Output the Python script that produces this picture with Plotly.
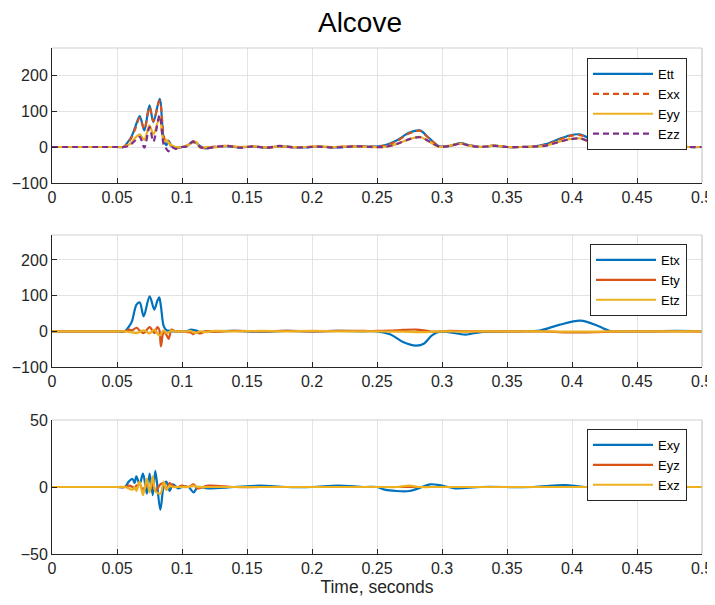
import plotly.graph_objects as go

# ---------------- data ----------------
title_text = "Alcove"
x_label = "Time, seconds"
x_tickvals = [0, 0.05, 0.1, 0.15, 0.2, 0.25, 0.3, 0.35, 0.4, 0.45, 0.5]
x_ticktext = ["0", "0.05", "0.1", "0.15", "0.2", "0.25", "0.3", "0.35", "0.4", "0.45", "0.5"]
y1_ticks = [-100, 0, 100, 200]
y2_ticks = [-100, 0, 100, 200]
y3_ticks = [-50, 0, 50]

# panel 1: Ett, Exx, Eyy, Ezz
t1 = [0, 0.05, 0.055, 0.058, 0.061, 0.064, 0.0675, 0.071, 0.075, 0.078, 0.0828, 0.086,
      0.088, 0.0895, 0.092, 0.095, 0.1, 0.104, 0.108, 0.111, 0.114, 0.118, 0.125, 0.135,
      0.145, 0.155, 0.165, 0.175, 0.185, 0.195, 0.205, 0.215, 0.225, 0.235, 0.245, 0.255,
      0.265, 0.275, 0.283, 0.29, 0.298, 0.306, 0.314, 0.322, 0.33, 0.34, 0.35, 0.36, 0.37,
      0.38, 0.39, 0.398, 0.406, 0.414, 0.422, 0.43, 0.44, 0.45, 0.46, 0.47, 0.48, 0.49, 0.5]
Ett = [0, 0, 0, 12, 28, 55, 86, 46, 116, 69, 134, 20,
       5, 18, 2, -3, 0, 3, 15, 12, 2, -4, 0, 2,
       -1, 1, -2, 2, 0, -1, 1, -1, 0, 2, 1, 4,
       18, 40, 46, 25, 2, 3, 11, 4, 0, 4, 0, 0, 1,
       8, 22, 32, 35, 22, 4, 0, 1, 0, 1, 0, 1, 0, 0]
Exx = [0, 0, 0, 10, 25, 50, 80, 50, 110, 72, 128, 30,
       10, 15, 0, -2, 0, 4, 16, 12, 1, -3, 1, 3,
       -1, 2, -2, 1, -1, 0, 1, -1, 1, 2, 1, 3,
       16, 38, 45, 24, 2, 3, 10, 4, 0, 4, 0, 0, 1,
       6, 20, 30, 33, 22, 4, 0, 1, 0, 1, 0, 1, 0, 0]
Eyy = [0, 0, 0, 4, 12, 25, 35, 20, 60, 35, 82, 15,
       20, 12, 5, 0, 0, 4, 12, 14, -2, 0, -1, 3,
       0, 2, -1, 2, 0, 0, 2, 0, 1, 1, 0, 0,
       8, 22, 28, 15, 0, 4, 9, 3, 0, 4, 0, 0, 1,
       4, 15, 22, 24, 14, 2, 0, 1, 0, 1, 0, 1, 0, 0]
Ezz = [0, 0, 0, 2, 8, 18, 28, -2, 55, 15, 88, 5,
       -5, -12, 0, -5, 0, 2, 14, 10, 0, -4, 0, 3,
       -2, 2, -2, 3, -1, -1, 1, -1, 0, 2, 0, 0,
       8, 22, 27, 16, 1, 3, 9, 3, 0, 3, 0, 0, 1,
       4, 14, 21, 24, 14, 2, 0, 1, 0, 1, 0, 1, 0, 0]

# panel 2: Etx, Ety, Etz
t2 = [0, 0.05, 0.056, 0.0595, 0.0615, 0.065, 0.0675, 0.0705, 0.0751, 0.0787, 0.081,
      0.0825, 0.0838, 0.0859, 0.088, 0.0897, 0.092, 0.095, 0.1, 0.104, 0.107, 0.1085,
      0.111, 0.114, 0.118, 0.125, 0.14, 0.16, 0.18, 0.2, 0.22, 0.24, 0.25, 0.26, 0.27,
      0.28, 0.286, 0.292, 0.298, 0.306, 0.318, 0.33, 0.345, 0.36, 0.375, 0.39, 0.4065,
      0.42, 0.4295, 0.44, 0.46, 0.48, 0.5]
Etx = [0, 0, 0, 15, 28, 75, 81, 42, 98, 61, 85,
       95, 70, 15, 3, 2, 0, 0, 0, 1, 5, 4,
       2, -2, -1, 0, 1, -1, 1, 0, 1, 0, 0, -8, -30,
       -40, -35, -12, -1, -3, -9, -2, -1, 0, 2, 18, 30,
       15, 1, 0, 0, 1, 0]
Ety = [0, 0, 0, 5, 3, 10, 2, -5, 12, -5, 12,
       5, -42, 0, -10, -21, 5, 0, 0, -2, -3, -8,
       -2, -6, 0, -1, 1, 0, 1, 0, 1, 1, 1, 2, 4,
       5, 3, -1, 0, 1, 0, 0, 0, 0, 0, -2, -3,
       -2, -1, 0, 0, 0, 0]
Etz = [0, 0, 0, -2, -3, -5, -2, 3, -6, 5, -6,
       -12, -8, 3, -5, -3, 2, 0, 0, 0, 1, -3,
       -4, 0, -2, 1, 0, 1, 0, 1, 0, 0, 0, -1, -1,
       -2, -2, -1, 0, 0, -1, 0, 0, 0, 0, -1, -1,
       -1, 0, 0, 0, 0, 0]

# panel 3: Exy, Eyz, Exz
t3 = [0, 0.05, 0.056, 0.059, 0.062, 0.0635, 0.0649, 0.0674, 0.07, 0.073, 0.0751, 0.0775,
      0.0795, 0.0833, 0.086, 0.088, 0.0905, 0.093, 0.097, 0.1, 0.105, 0.109, 0.112, 0.12,
      0.14, 0.16, 0.18, 0.2, 0.22, 0.24, 0.25, 0.256, 0.265, 0.275, 0.282, 0.291, 0.3,
      0.31, 0.33, 0.37, 0.385, 0.395, 0.41, 0.45, 0.5]
Exy = [0, 0, 0, 4, 6, 3, 8, 2, 10, -5, 10, -6,
       12, -17, 1, 4, -3, 2, -1, 0, 0, -4, 0, -1,
       0, 1, 0, 0, 1, 0, 0, -2, -3, -3, -1, 2, 1,
       -1, 0, 0, 1, 1.5, 0, 0, 0]
Eyz = [0, 0, 0, 1, 0, -1, 1, 2, -2, 2, -2, 3,
       -3, 2, 3, -2, 3, 1, 0, 1, 0, 2, -1, 1,
       0, 0, 0, 0, 0, 0, 0, 0, 0, 0, 0, 0, 0,
       0, 0, 0, 0, 0, 0, 0, 0]
Exz = [0, 0, 0, -1, -2, 0, -3, 4, -6, 6, -4, 8,
       -3, -5, 4, -2, 1, 0, 0, 0, 0, 1, 0, 0,
       0, 0, 0, 0, 0, 0, 0, 0, 0, 1, 0, 0, 0,
       0, 0, 0, 0, 0, 0, 0, 0]

# ---------------- styling ----------------
C_BLUE = "#0072BD"
C_ORANGE = "#D95319"
C_YELLOW = "#EDB120"
C_PURPLE = "#7E2F8E"
FONT = "Liberation Sans, Arial, Helvetica, sans-serif"
AX_COL = "#262626"
GRID_COL = "#e3e3e3"

# page body has an 8px margin; the figure is sized/positioned to compensate
W, H = 707, 589
PL, PR, PT, PB = 44, 694, 40, 546   # plot area in figure px
PH = PB - PT

fig = go.Figure()

def add(t, y, name, color, dash, xa, ya, leg):
    fig.add_trace(go.Scatter(
        x=t, y=y, name=name, mode="lines",
        line=dict(color=color, width=2.2, dash=dash, shape="spline", smoothing=0.9),
        xaxis=xa, yaxis=ya, legend=leg))

add(t1, Ett, "Ett", C_BLUE, "solid", "x", "y", "legend")
add(t1, Exx, "Exx", C_ORANGE, "6px,4px", "x", "y", "legend")
add(t1, Eyy, "Eyy", C_YELLOW, "solid", "x", "y", "legend")
add(t1, Ezz, "Ezz", C_PURPLE, "6px,4px", "x", "y", "legend")

add(t2, Etx, "Etx", C_BLUE, "solid", "x2", "y2", "legend2")
add(t2, Ety, "Ety", C_ORANGE, "solid", "x2", "y2", "legend2")
add(t2, Etz, "Etz", C_YELLOW, "solid", "x2", "y2", "legend2")

add(t3, Exy, "Exy", C_BLUE, "solid", "x3", "y3", "legend3")
add(t3, Eyz, "Eyz", C_ORANGE, "solid", "x3", "y3", "legend3")
add(t3, Exz, "Exz", C_YELLOW, "solid", "x3", "y3", "legend3")

def dom(top_px, bot_px):  # page px -> paper domain
    top_px -= 8
    bot_px -= 8
    return [(PB - bot_px) / PH, (PB - top_px) / PH]

d1 = dom(48, 183)
d2 = dom(235, 367)
d3 = dom(420, 554)

def xax(anchor, title=None):
    a = dict(domain=[0, 1], range=[0, 0.5], anchor=anchor, automargin=False,
             tickvals=x_tickvals, ticktext=x_ticktext, ticklabeloverflow="allow",
             showgrid=True, gridcolor=GRID_COL, gridwidth=1,
             showline=True, linecolor=AX_COL, linewidth=1,
             ticks="inside", ticklen=5, tickcolor=AX_COL,
             tickfont=dict(size=16, color=AX_COL, family=FONT),
             zeroline=False, mirror=False)
    if title:
        a["title"] = dict(text=title, font=dict(size=17.5, color=AX_COL, family=FONT), standoff=9)
    return a

def yax(anchor, domain, rng, tv):
    return dict(domain=domain, range=rng, anchor=anchor, automargin=False,
                tickvals=tv, showgrid=True, gridcolor=GRID_COL, gridwidth=1,
                showline=True, linecolor=AX_COL, linewidth=1,
                ticks="inside", ticklen=5, tickcolor=AX_COL,
                tickfont=dict(size=16, color=AX_COL, family=FONT),
                zeroline=False)

def leg(top_px):
    top_px -= 8
    return dict(x=(679 - PL) / (PR - PL), xanchor="right", y=(PB - top_px) / PH, yanchor="top",
                bgcolor="white", bordercolor=AX_COL, borderwidth=1,
                font=dict(size=13, color="#000000", family=FONT),
                itemwidth=60, tracegroupgap=0)

fig.update_layout(
    width=W, height=H,
    margin=dict(l=PL, r=W - PR, t=PT, b=H - PB, autoexpand=False),
    paper_bgcolor="white", plot_bgcolor="white",
    font=dict(family=FONT, color=AX_COL),
    title=dict(text=title_text, x=(360 - 8) / W, xanchor="center", y=1 - (22 - 8) / H,
               yanchor="middle", font=dict(size=28, color="#000000", family=FONT)),
    xaxis=xax("y"), yaxis=yax("x", d1, [-100, 275], y1_ticks),
    xaxis2=xax("y2"), yaxis2=yax("x2", d2, [-100, 270], y2_ticks),
    xaxis3=xax("y3", x_label), yaxis3=yax("x3", d3, [-50, 50], y3_ticks),
    legend=leg(58), legend2=leg(244), legend3=leg(429),
    showlegend=True,
)

# light box top/right edges of each axes
for d in (d1, d2, d3):
    fig.add_shape(type="line", xref="paper", yref="paper", x0=0, x1=1, y0=d[1], y1=d[1],
                  line=dict(color="#cfcfcf", width=1))
    fig.add_shape(type="line", xref="paper", yref="paper", x0=1, x1=1, y0=d[0], y1=d[1],
                  line=dict(color="#bdbdbd", width=1))

fig.write_html("out.html",
               post_script="document.documentElement.style.overflow='hidden';")
